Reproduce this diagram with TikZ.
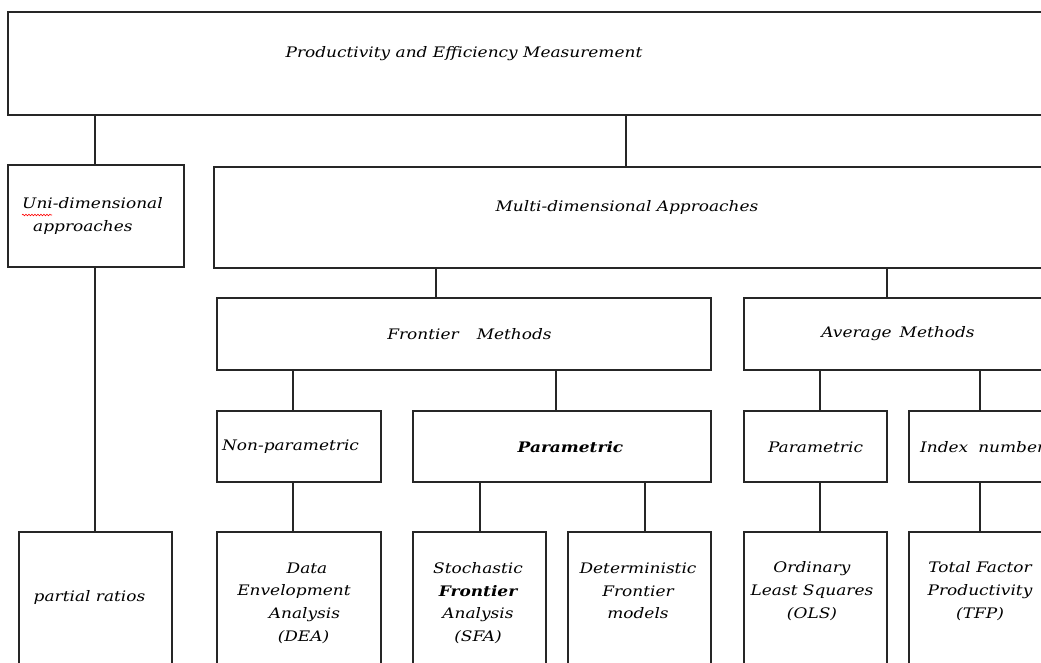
\documentclass[tikz,border=0pt]{standalone}
\usepackage{fontspec}
\setmainfont[FakeStretch=1.17]{DejaVu Serif}
\usetikzlibrary{decorations.pathmorphing}
\begin{document}
\begin{tikzpicture}[x=1pt,y=-1pt,
  box/.style={draw=black!85, line width=1.2pt, inner sep=0pt, outer sep=0pt, anchor=north west},
  lbl/.style={font=\fontsize{14.5}{22.7}\selectfont\itshape, align=center, inner sep=0pt},
  blbl/.style={lbl, font=\fontsize{14.5}{22.7}\selectfont\bfseries\itshape},
  conn/.style={draw=black!85, line width=1.2pt}]
\useasboundingbox (0,0) rectangle (1041,662);
\fill[white] (0,0) rectangle (1041,662);
\clip (0,0) rectangle (1041,662);

% boxes
\node[box, minimum width=1100pt, minimum height=103pt] (top) at (8,12) {};
\node[box, minimum width=176pt, minimum height=102pt] (uni) at (8,165) {};
\node[box, minimum width=900pt, minimum height=101pt] (multi) at (214,167) {};
\node[box, minimum width=494pt, minimum height=72pt] (front) at (217,298) {};
\node[box, minimum width=400pt, minimum height=72pt] (avg) at (744,298) {};
\node[box, minimum width=164pt, minimum height=71pt] (nonp) at (217,411) {};
\node[box, minimum width=298pt, minimum height=71pt] (param) at (413,411) {};
\node[box, minimum width=143pt, minimum height=71pt] (aparam) at (744,411) {};
\node[box, minimum width=300pt, minimum height=71pt] (index) at (909,411) {};
\node[box, minimum width=153pt, minimum height=200pt] (pr) at (19,532) {};
\node[box, minimum width=164pt, minimum height=200pt] (dea) at (217,532) {};
\node[box, minimum width=133pt, minimum height=200pt] (sfa) at (413,532) {};
\node[box, minimum width=143pt, minimum height=200pt] (det) at (568,532) {};
\node[box, minimum width=143pt, minimum height=200pt] (ols) at (744,532) {};
\node[box, minimum width=300pt, minimum height=200pt] (tfp) at (909,532) {};

% texts
\node[lbl] (ttop) at (464,54) {Productivity and Efficiency Measurement};
\node[lbl, align=left, anchor=west] (tuni) at (22,216) {Uni-dimensional\\\hspace*{11pt}approaches};
\node[lbl] (tmulti) at (627,207) {Multi-dimensional Approaches};
\node[lbl] (tfront) at (469.5,334) {Frontier\hspace{18pt}Methods};
\node[lbl] (tavg) at (898,334) {Average\hspace{8pt}Methods};
\node[lbl] (tnonp) at (290.5,447) {Non-parametric};
\node[blbl] (tparam) at (570.5,447) {Parametric};
\node[lbl] (taparam) at (815.5,447) {Parametric};
\node[lbl, anchor=west] (tindex) at (920,447) {Index\hspace{10pt}number};
\node[lbl] (tpr) at (89.5,597) {partial ratios};
\node[lbl] (tdea) at (294,603) {\hspace*{26pt}Data\\Envelopment\\\hspace*{21pt}Analysis\\\hspace*{19pt}(DEA)};
\node[lbl] (tsfa) at (478,603) {Stochastic\\{\bfseries Frontier}\\Analysis\\(SFA)};
\node[lbl] (tdet) at (638,591) {Deterministic\\Frontier\\models};
\node[lbl] (tols) at (812,591) {Ordinary\\Least Squares\\(OLS)};
\node[lbl] (ttfp) at (980,591) {Total Factor\\Productivity\\(TFP)};

% spell-check mark
\draw[red, line width=0.6pt, decorate, decoration={snake, amplitude=0.8pt, segment length=3pt}]
  (tuni.west |- 0,215) -- ++(30,0);

% connector coordinates
\path (top.south west) ++(87,0) coordinate (cu);
\path (top.south west) ++(618,0) coordinate (cm);
\path (multi.south west) ++(222,0) coordinate (cf);
\path (multi.south west) ++(673,0) coordinate (ca);
\path (front.south west) ++(76,0) coordinate (cn);
\path (front.south west) ++(339,0) coordinate (cp);
\path (avg.south west) ++(76,0) coordinate (cap);
\path (avg.south west) ++(236,0) coordinate (ci);
\path (param.south west) ++(67,0) coordinate (cs);
\path (param.south west) ++(232,0) coordinate (cd);

% connectors
\draw[conn] (cu) -- (cu |- uni.north);
\draw[conn] (cm) -- (cm |- multi.north);
\draw[conn] (cu |- uni.south) -- (cu |- pr.north);
\draw[conn] (cf) -- (cf |- front.north);
\draw[conn] (ca) -- (ca |- avg.north);
\draw[conn] (cn) -- (cn |- nonp.north);
\draw[conn] (cp) -- (cp |- param.north);
\draw[conn] (cap) -- (cap |- aparam.north);
\draw[conn] (ci) -- (ci |- index.north);
\draw[conn] (cn |- nonp.south) -- (cn |- dea.north);
\draw[conn] (cs) -- (cs |- sfa.north);
\draw[conn] (cd) -- (cd |- det.north);
\draw[conn] (cap |- aparam.south) -- (cap |- ols.north);
\draw[conn] (ci |- index.south) -- (ci |- tfp.north);
\end{tikzpicture}
\end{document}
